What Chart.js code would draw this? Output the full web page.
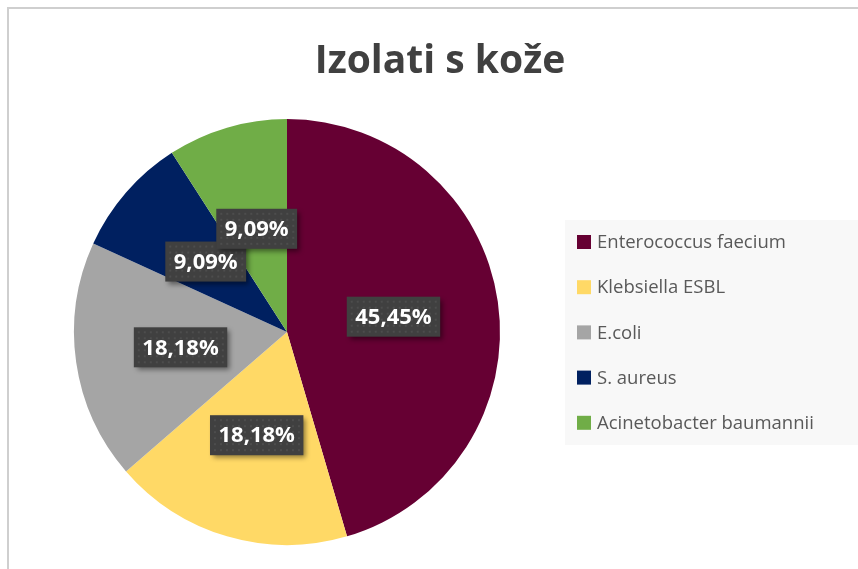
<!DOCTYPE html>
<html>
<head>
<meta charset="utf-8">
<script src="https://cdn.jsdelivr.net/npm/chart.js@4"></script>
<style>
  html, body { margin: 0; padding: 0; background: #fff; }
  #wrap { position: relative; width: 858px; height: 569px; overflow: hidden; }
  #frame { position: absolute; left: 7px; top: 7px; width: 900px; height: 600px;
           border-left: 2px solid #cfcfcf; border-top: 2px solid #cfcfcf; box-sizing: border-box; }
  canvas { position: absolute; left: 0; top: 0; }
</style>
</head>
<body>
<div id="wrap">
  <div id="frame"></div>
  <canvas id="pieChart" width="858" height="569"></canvas>
</div>
<script>
const titleText = 'Izolati s kože';
const categories = ['Enterococcus faecium', 'Klebsiella ESBL', 'E.coli', 'S. aureus', 'Acinetobacter baumannii'];
const shares = [45.45, 18.18, 18.18, 9.09, 9.09];
const sliceColors = ['#660033', '#FFD966', '#A5A5A5', '#002060', '#70AD47'];

document.addEventListener('DOMContentLoaded', function() {
    const ctx = document.getElementById('pieChart');

    // title drawn on top of the canvas
    const titlePlugin = {
        id: 'excelTitle',
        afterDraw(chart) {
            const c = chart.ctx;
            c.save();
            c.fillStyle = '#404040';
            c.font = 'bold 39px "Open Sans"';
            c.textAlign = 'center';
            c.textBaseline = 'alphabetic';
            c.fillText(titleText, 440, 73);
            c.restore();
        }
    };

    // legend box on the right
    const legendPlugin = {
        id: 'excelLegend',
        afterDraw(chart) {
            const c = chart.ctx;
            c.save();
            c.fillStyle = '#f8f8f8';
            c.fillRect(565, 220, 300, 225);
            c.font = '18.5px "Open Sans"';
            c.textBaseline = 'middle';
            categories.forEach(function(name, i) {
                const y = 242 + i * 45.2;
                c.fillStyle = sliceColors[i];
                c.fillRect(577, y - 7, 14, 14);
                c.fillStyle = '#595959';
                c.fillText(name, 597, y + 1);
            });
            c.restore();
        }
    };

    // dark percentage boxes inside the slices
    const labelPlugin = {
        id: 'sliceLabels',
        afterDatasetsDraw(chart) {
            const c = chart.ctx;
            const meta = chart.getDatasetMeta(0);
            c.save();
            c.font = 'bold 22px "Open Sans"';
            c.textAlign = 'center';
            c.textBaseline = 'middle';
            meta.data.forEach(function(arc, i) {
                const p = arc.getProps(['x', 'y', 'startAngle', 'endAngle', 'outerRadius'], true);
                const mid = (p.startAngle + p.endAngle) / 2;
                const r = p.outerRadius * 0.505;
                const x = p.x + Math.cos(mid) * r;
                const y = p.y + Math.sin(mid) * r;
                const txt = shares[i].toFixed(2).replace('.', ',') + '%';
                const w = c.measureText(txt).width + 17;
                const h = 40;
                c.shadowColor = 'rgba(0,0,0,0.45)';
                c.shadowBlur = 5;
                c.shadowOffsetX = 3;
                c.shadowOffsetY = 3;
                c.fillStyle = '#404040';
                c.fillRect(x - w / 2, y - h / 2, w, h);
                c.shadowColor = 'transparent';
                // faint dotted texture
                c.fillStyle = 'rgba(255,255,255,0.07)';
                for (let dx = 4; dx < w - 2; dx += 6) {
                    for (let dy = 4; dy < h - 2; dy += 6) {
                        c.fillRect(x - w / 2 + dx, y - h / 2 + dy, 2, 2);
                    }
                }
                c.fillStyle = '#ffffff';
                c.fillText(txt, x, y + 1);
            });
            c.restore();
        }
    };

    new Chart(ctx, {
        type: 'pie',
        data: {
            labels: categories,
            datasets: [{
                data: shares,
                backgroundColor: sliceColors,
                borderWidth: 0
            }]
        },
        options: {
            responsive: false,
            animation: false,
            layout: {
                padding: { left: 74, right: 358, top: 119, bottom: 24 }
            },
            plugins: {
                legend: { display: false },
                title: { display: false },
                tooltip: { enabled: false }
            }
        },
        plugins: [labelPlugin, legendPlugin, titlePlugin]
    });
});
</script>
</body>
</html>
